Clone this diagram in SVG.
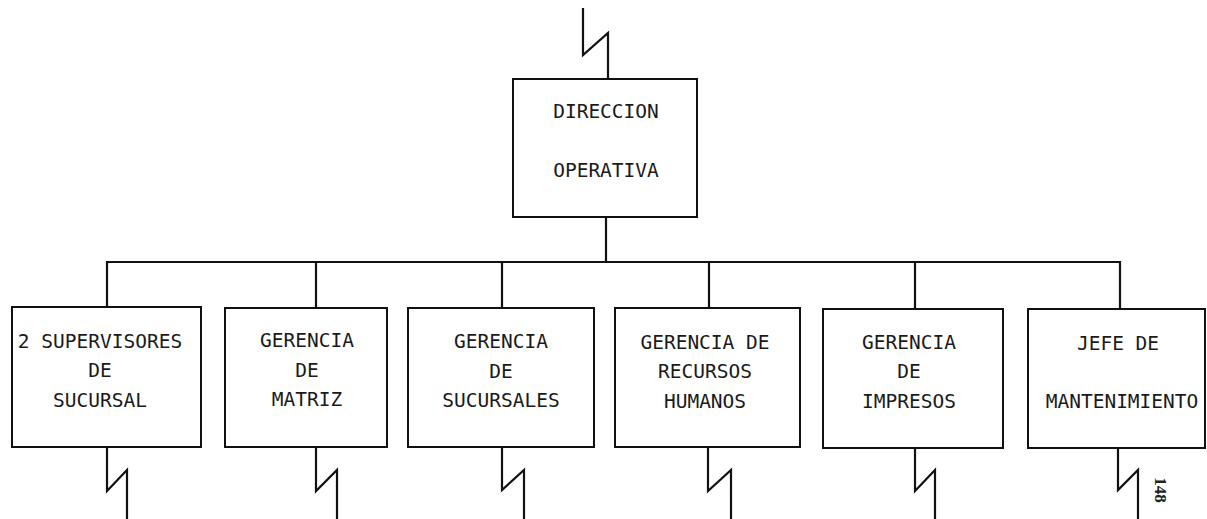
<svg xmlns="http://www.w3.org/2000/svg" width="1207" height="519" viewBox="0 0 1207 519">
<style>
.box{fill:none;stroke:#111;stroke-width:2}
.ln{fill:none;stroke:#111;stroke-width:2.2;stroke-linejoin:miter}
.t{font-family:"DejaVu Sans Mono","Liberation Mono",monospace;font-size:19.5px;fill:#1a1a1a;text-anchor:middle}
.pg{font-family:"Liberation Serif",serif;font-size:17px;font-weight:bold;fill:#222;text-anchor:middle}
</style>
<rect width="1207" height="519" fill="#fff"/>
<g id="connectors">
<path class="ln" d="M583,8 V55 L608,33 V79"/>
<path class="ln" d="M606,217 V262"/>
<path class="ln" d="M107,308 V262 H1120 V308"/>
<path class="ln" d="M316,262 V308 M502,262 V308 M709,262 V308 M915,262 V308"/>
<path class="ln" d="M107,447 V491 L127,470 V519"/>
<path class="ln" d="M316,447 V491 L337,470 V519"/>
<path class="ln" d="M502,447 V490 L524,470 V519"/>
<path class="ln" d="M708,447 V491 L731,470 V519"/>
<path class="ln" d="M915,447 V491 L935,470 V519"/>
<path class="ln" d="M1118,448 V490 L1138,470 V519"/>
</g>
<g id="direccion">
<rect class="box" x="513" y="79" width="184" height="138"/>
<text class="t" x="606" y="118">DIRECCION</text>
<text class="t" x="606" y="177">OPERATIVA</text>
</g>
<g id="supervisores">
<rect class="box" x="12" y="307" width="189" height="140"/>
<text class="t" x="100" y="348">2 SUPERVISORES</text>
<text class="t" x="100" y="377">DE</text>
<text class="t" x="100" y="407">SUCURSAL</text>
</g>
<g id="matriz">
<rect class="box" x="225" y="308" width="162" height="139"/>
<text class="t" x="307" y="347">GERENCIA</text>
<text class="t" x="307" y="377">DE</text>
<text class="t" x="307" y="406">MATRIZ</text>
</g>
<g id="sucursales">
<rect class="box" x="408" y="308" width="186" height="139"/>
<text class="t" x="501" y="348">GERENCIA</text>
<text class="t" x="501" y="378">DE</text>
<text class="t" x="501" y="407">SUCURSALES</text>
</g>
<g id="recursos">
<rect class="box" x="615" y="308" width="185" height="139"/>
<text class="t" x="705" y="349">GERENCIA DE</text>
<text class="t" x="705" y="378">RECURSOS</text>
<text class="t" x="705" y="408">HUMANOS</text>
</g>
<g id="impresos">
<rect class="box" x="823" y="309" width="180" height="139"/>
<text class="t" x="909" y="349">GERENCIA</text>
<text class="t" x="909" y="378">DE</text>
<text class="t" x="909" y="408">IMPRESOS</text>
</g>
<g id="mantenimiento">
<rect class="box" x="1028" y="309" width="177" height="139"/>
<text class="t" x="1118" y="350">JEFE DE</text>
<text class="t" x="1122" y="408">MANTENIMIENTO</text>
</g>
<text class="pg" transform="translate(1155,490) rotate(90)">148</text>
</svg>
